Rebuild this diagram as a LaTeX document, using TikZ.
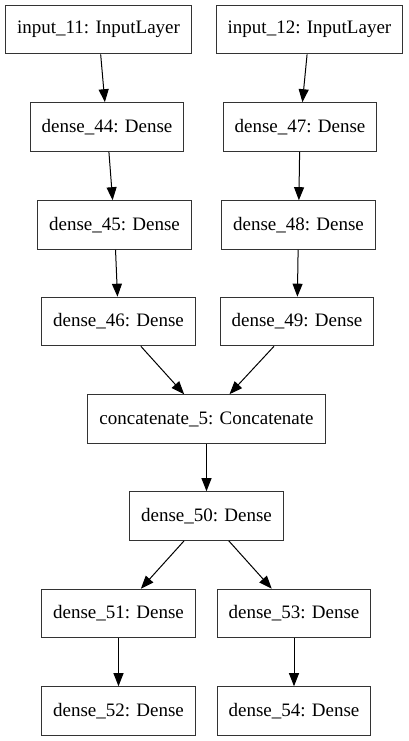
\documentclass[tikz,border=0pt]{standalone}
\usepackage{fontspec}
\setmainfont{Liberation Serif}
\usetikzlibrary{arrows.meta}

\begin{document}
\begin{tikzpicture}[x=1pt,y=-1pt,
  layer/.style={draw=black!80,line width=1.1pt,rectangle,inner xsep=11.5pt,
    inner ysep=0pt,minimum height=48.5pt,
    font=\fontsize{19}{22}\selectfont},
  flow/.style={line width=1pt,-{Triangle[length=13pt,width=10pt]}}]
  \useasboundingbox (0,0) rectangle (408,741);
  \node[layer] (in11) at (98.5,29.5) {input\_11: InputLayer};
  \node[layer] (in12) at (309.5,29.5) {input\_12: InputLayer};
  \node[layer] (d44) at (107,127) {dense\_44: Dense};
  \node[layer] (d47) at (300,127) {dense\_47: Dense};
  \node[layer] (d45) at (114.5,225) {dense\_45: Dense};
  \node[layer] (d48) at (298.5,225) {dense\_48: Dense};
  \node[layer] (d46) at (118.5,321.5) {dense\_46: Dense};
  \node[layer] (d49) at (297,321.5) {dense\_49: Dense};
  \node[layer] (cat5) at (206.5,419) {concatenate\_5: Concatenate};
  \node[layer] (d50) at (206.5,516) {dense\_50: Dense};
  \node[layer] (d51) at (118.5,613.5) {dense\_51: Dense};
  \node[layer] (d53) at (294,613.5) {dense\_53: Dense};
  \node[layer] (d52) at (118.5,711) {dense\_52: Dense};
  \node[layer] (d54) at (294,711) {dense\_54: Dense};

  \draw[flow] (in11) -- (d44);
  \draw[flow] (d44) -- (d45);
  \draw[flow] (d45) -- (d46);
  \draw[flow] (in12) -- (d47);
  \draw[flow] (d47) -- (d48);
  \draw[flow] (d48) -- (d49);
  \draw[flow] (d46) -- (cat5);
  \draw[flow] (d49) -- (cat5);
  \draw[flow] (cat5) -- (d50);
  \draw[flow] (d50) -- (d51);
  \draw[flow] (d50) -- (d53);
  \draw[flow] (d51) -- (d52);
  \draw[flow] (d53) -- (d54);
\end{tikzpicture}
\end{document}
